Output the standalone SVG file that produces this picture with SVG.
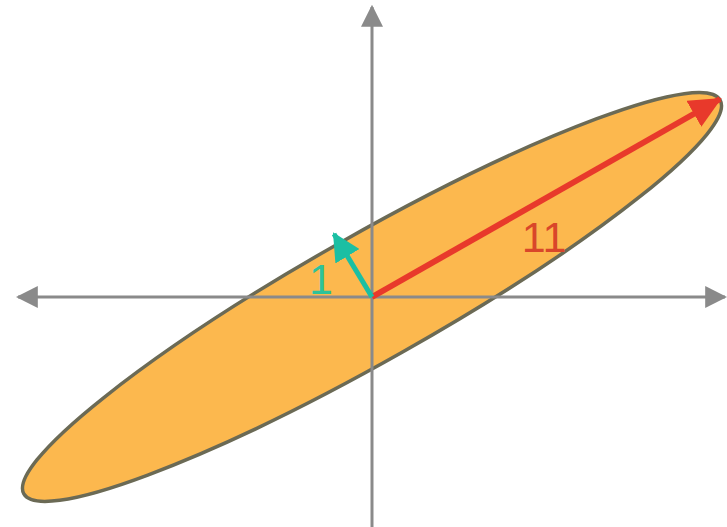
<svg xmlns="http://www.w3.org/2000/svg" width="727" height="527" viewBox="0 0 727 527">
<style>
.axis{stroke:#8a8a8a;stroke-width:3;fill:none}
.lbl{font-family:"Liberation Sans",Arial,sans-serif;font-size:43px}
</style>
<defs>
<marker id="ah" markerUnits="userSpaceOnUse" markerWidth="22" markerHeight="22" viewBox="0 0 20 20" refX="18" refY="10" orient="auto">
<path d="M0,0 L20,10 L0,20 Z" fill="#8a8a8a"/>
</marker>
<marker id="rh" markerUnits="userSpaceOnUse" markerWidth="32" markerHeight="30" viewBox="0 0 32 30" refX="30" refY="15" orient="auto">
<path d="M0,0 L32,15 L0,30 Z" fill="#e8392b"/>
</marker>
<marker id="gh" markerUnits="userSpaceOnUse" markerWidth="28" markerHeight="28" viewBox="0 0 28 28" refX="26" refY="14" orient="auto">
<path d="M0,0 L28,14 L0,28 Z" fill="#1bbfa3"/>
</marker>
</defs>
<rect width="727" height="527" fill="#ffffff"/>
<g id="ellipse">
<ellipse cx="372" cy="297" rx="400" ry="63" transform="rotate(-29.5 372 297)" fill="#fcb84e" stroke="#6b6a55" stroke-width="3.5"/>
</g>
<g id="connectors">
<line class="axis" x1="372" y1="297" x2="18" y2="297" marker-end="url(#ah)"/>
<line class="axis" x1="372" y1="297" x2="725" y2="297" marker-end="url(#ah)"/>
<line class="axis" x1="372" y1="297" x2="372" y2="7" marker-end="url(#ah)"/>
<line class="axis" x1="372" y1="297" x2="372" y2="527"/>
<line x1="372" y1="297" x2="720" y2="99" stroke="#e8392b" stroke-width="6" marker-end="url(#rh)"/>
<line x1="372" y1="297" x2="334" y2="234" stroke="#1bbfa3" stroke-width="5" marker-end="url(#gh)"/>
</g>
<g id="labels">
<text class="lbl" x="544" y="252" text-anchor="middle" fill="#d9462a">11</text>
<text class="lbl" x="321" y="294" text-anchor="middle" fill="#2ec29a">1</text>
</g>
</svg>
